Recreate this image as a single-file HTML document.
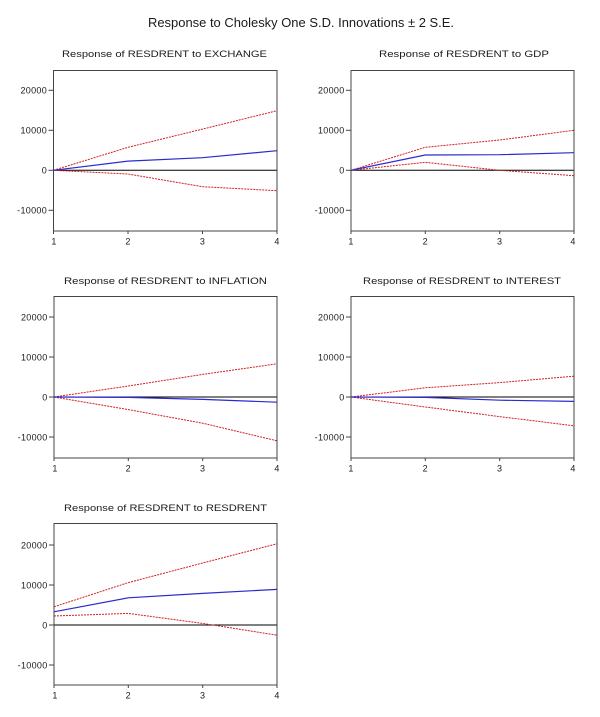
<!DOCTYPE html>
<html><head><meta charset="utf-8"><style>
html,body{margin:0;padding:0;background:#fff;}
svg{display:block;}
text{font-family:"Liberation Sans",Arial,sans-serif;fill:#1a1a1a;}
.tl{font-size:9px;letter-spacing:0.3px;}
.st{font-size:9.5px;}
.fr{fill:none;stroke:#444;stroke-width:1;}
.z{stroke:#000;stroke-width:1;}
.b{fill:none;stroke:#2a2ad0;stroke-width:1.2;}
.r{fill:none;stroke:#d02020;stroke-width:1;stroke-dasharray:2,1;}
.tk{stroke:#444;stroke-width:1;}
</style></head><body>
<svg width="600" height="717" viewBox="0 0 600 717" xmlns="http://www.w3.org/2000/svg">
<rect width="600" height="717" fill="#fff"/>
<text x="301" y="27" font-size="13" text-anchor="middle" textLength="306" lengthAdjust="spacingAndGlyphs">Response to Cholesky One S.D. Innovations ± 2 S.E.</text>

<!-- Panel 1 -->
<text class="st" x="62" y="57" textLength="205" lengthAdjust="spacingAndGlyphs">Response of RESDRENT to EXCHANGE</text>
<line class="z" x1="53.5" y1="170.3" x2="277" y2="170.3"/>
<polyline class="r" points="53.5,170.3 128,147.3 202.5,129.1 277,110.7"/>
<polyline class="r" points="53.5,170.3 128,174 202.5,186.7 277,190.7"/>
<polyline class="b" points="53.5,170.3 128,161.1 202.5,157.7 277,150.7"/>
<rect class="fr" x="53.5" y="70.5" width="223.5" height="160.5"/>
<g class="tk"><line x1="48.5" y1="90.3" x2="53.5" y2="90.3"/><line x1="48.5" y1="130.3" x2="53.5" y2="130.3"/><line x1="48.5" y1="170.3" x2="53.5" y2="170.3"/><line x1="48.5" y1="210.3" x2="53.5" y2="210.3"/>
<line x1="53.5" y1="231" x2="53.5" y2="234"/><line x1="128" y1="231" x2="128" y2="234"/><line x1="202.5" y1="231" x2="202.5" y2="234"/><line x1="277" y1="231" x2="277" y2="234"/></g>
<g class="tl" text-anchor="end"><text x="47" y="93.5">20000</text><text x="47" y="133.5">10000</text><text x="47" y="173.5">0</text><text x="47" y="213.5">-10000</text></g>
<g class="tl" text-anchor="middle"><text x="54" y="244.5">1</text><text x="128" y="244.5">2</text><text x="202.5" y="244.5">3</text><text x="277" y="244.5">4</text></g>

<!-- Panel 2 -->
<text class="st" x="379" y="57" textLength="170" lengthAdjust="spacingAndGlyphs">Response of RESDRENT to GDP</text>
<line class="z" x1="351" y1="170.3" x2="574" y2="170.3"/>
<polyline class="r" points="351,170.3 425.3,147.3 499.7,140 574,130.3"/>
<polyline class="r" points="351,170.3 425.3,162.3 499.7,170.3 574,175.7"/>
<polyline class="b" points="351,170.3 425.3,155 499.7,154.7 574,152.7"/>
<rect class="fr" x="351" y="70.5" width="223" height="160.5"/>
<g class="tk"><line x1="346" y1="90.3" x2="351" y2="90.3"/><line x1="346" y1="130.3" x2="351" y2="130.3"/><line x1="346" y1="170.3" x2="351" y2="170.3"/><line x1="346" y1="210.3" x2="351" y2="210.3"/>
<line x1="351" y1="231" x2="351" y2="234"/><line x1="425.3" y1="231" x2="425.3" y2="234"/><line x1="499.7" y1="231" x2="499.7" y2="234"/><line x1="574" y1="231" x2="574" y2="234"/></g>
<g class="tl" text-anchor="end"><text x="344.5" y="93.5">20000</text><text x="344.5" y="133.5">10000</text><text x="344.5" y="173.5">0</text><text x="344.5" y="213.5">-10000</text></g>
<g class="tl" text-anchor="middle"><text x="351" y="244.5">1</text><text x="425.3" y="244.5">2</text><text x="499.7" y="244.5">3</text><text x="573" y="244.5">4</text></g>

<!-- Panel 3 -->
<text class="st" x="64" y="284" textLength="203" lengthAdjust="spacingAndGlyphs">Response of RESDRENT to INFLATION</text>
<line class="z" x1="54" y1="397" x2="277" y2="397"/>
<polyline class="r" points="54,397 128.3,386 202.7,374.4 277,363.8"/>
<polyline class="r" points="54,397 128.3,409.6 202.7,423.2 277,440.8"/>
<polyline class="b" points="54,397 128.3,397.4 202.7,399.4 277,402.2"/>
<rect class="fr" x="54" y="296.5" width="223" height="161.5"/>
<g class="tk"><line x1="49" y1="317" x2="54" y2="317"/><line x1="49" y1="357" x2="54" y2="357"/><line x1="49" y1="397" x2="54" y2="397"/><line x1="49" y1="437" x2="54" y2="437"/>
<line x1="54" y1="458" x2="54" y2="461"/><line x1="128.3" y1="458" x2="128.3" y2="461"/><line x1="202.7" y1="458" x2="202.7" y2="461"/><line x1="277" y1="458" x2="277" y2="461"/></g>
<g class="tl" text-anchor="end"><text x="47.5" y="320.5">20000</text><text x="47.5" y="360.5">10000</text><text x="47.5" y="400.5">0</text><text x="47.5" y="440.5">-10000</text></g>
<g class="tl" text-anchor="middle"><text x="55" y="471.5">1</text><text x="128.3" y="471.5">2</text><text x="202.7" y="471.5">3</text><text x="277" y="471.5">4</text></g>

<!-- Panel 4 -->
<text class="st" x="363" y="284" textLength="198" lengthAdjust="spacingAndGlyphs">Response of RESDRENT to INTEREST</text>
<line class="z" x1="351" y1="397" x2="574" y2="397"/>
<polyline class="r" points="351,397 425.3,387.8 499.7,382.6 574,376.2"/>
<polyline class="r" points="351,397 425.3,407 499.7,416.6 574,425.8"/>
<polyline class="b" points="351,397 425.3,397.4 499.7,400.2 574,401.4"/>
<rect class="fr" x="351" y="296.5" width="223" height="161.5"/>
<g class="tk"><line x1="346" y1="317" x2="351" y2="317"/><line x1="346" y1="357" x2="351" y2="357"/><line x1="346" y1="397" x2="351" y2="397"/><line x1="346" y1="437" x2="351" y2="437"/>
<line x1="351" y1="458" x2="351" y2="461"/><line x1="425.3" y1="458" x2="425.3" y2="461"/><line x1="499.7" y1="458" x2="499.7" y2="461"/><line x1="574" y1="458" x2="574" y2="461"/></g>
<g class="tl" text-anchor="end"><text x="344.5" y="320.5">20000</text><text x="344.5" y="360.5">10000</text><text x="344.5" y="400.5">0</text><text x="344.5" y="440.5">-10000</text></g>
<g class="tl" text-anchor="middle"><text x="351" y="471.5">1</text><text x="425.3" y="471.5">2</text><text x="499.7" y="471.5">3</text><text x="573" y="471.5">4</text></g>

<!-- Panel 5 -->
<text class="st" x="64" y="511" textLength="203" lengthAdjust="spacingAndGlyphs">Response of RESDRENT to RESDRENT</text>
<line class="z" x1="54" y1="625" x2="277" y2="625"/>
<polyline class="r" points="54,606.8 128.3,582.6 202.7,563 277,543.8"/>
<polyline class="r" points="54,616 128.3,613.4 202.7,623.4 277,635.2"/>
<polyline class="b" points="54,611.8 128.3,597.8 202.7,593.4 277,589.4"/>
<rect class="fr" x="54" y="523.5" width="223" height="161.5"/>
<g class="tk"><line x1="49" y1="545" x2="54" y2="545"/><line x1="49" y1="585" x2="54" y2="585"/><line x1="49" y1="625" x2="54" y2="625"/><line x1="49" y1="665" x2="54" y2="665"/>
<line x1="54" y1="685" x2="54" y2="688"/><line x1="128.3" y1="685" x2="128.3" y2="688"/><line x1="202.7" y1="685" x2="202.7" y2="688"/><line x1="277" y1="685" x2="277" y2="688"/></g>
<g class="tl" text-anchor="end"><text x="47.5" y="548.5">20000</text><text x="47.5" y="588.5">10000</text><text x="47.5" y="628.5">0</text><text x="47.5" y="668.5">-10000</text></g>
<g class="tl" text-anchor="middle"><text x="55" y="698.5">1</text><text x="128.3" y="698.5">2</text><text x="202.7" y="698.5">3</text><text x="277" y="698.5">4</text></g>
</svg>
</body></html>
